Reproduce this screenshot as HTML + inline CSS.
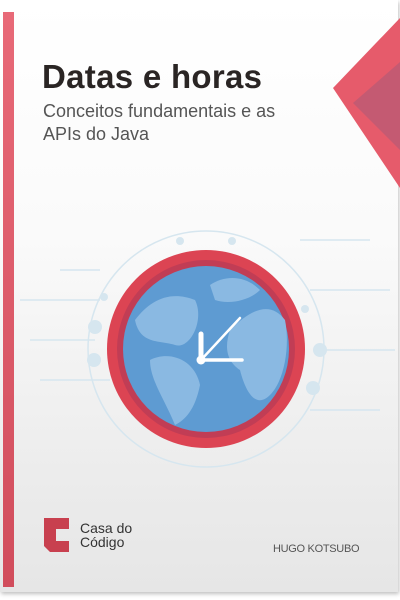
<!DOCTYPE html>
<html><head><style>
body{margin:0;width:400px;height:600px;overflow:hidden;background:#fff;font-family:"Liberation Sans",sans-serif}
.cover{position:absolute;left:0;top:0;width:398px;height:592px;background:linear-gradient(#fff 0%,#fafafa 40%,#ececec 80%,#e6e6e6 100%);box-shadow:1px 2px 4px rgba(0,0,0,.25)}
.spine{position:absolute;left:3px;top:12px;width:11px;height:575px;background:linear-gradient(#e86a78,#d14d5c)}
.t{position:absolute;left:42px;top:58px;font-size:33px;font-weight:bold;color:#2a2524;letter-spacing:0.3px}
.s{position:absolute;left:43px;top:100px;font-size:18px;color:#555;line-height:23px}
.c1{position:absolute;left:80px;top:521px;font-size:14px;color:#333;line-height:14px}
.a{position:absolute;left:273px;top:543px;font-size:11px;color:#555;letter-spacing:-0.3px}
</style></head><body>
<div class="cover">
<div class="spine"></div>
<svg width="400" height="600" style="position:absolute;left:0;top:0">
<polygon points="400,18 333,88 400,188" fill="#e65b6b"/>
<polygon points="400,62 353,103 400,150" fill="#c45a72"/>
<g stroke="#d6e6ef" stroke-width="1.5" fill="none">
<circle cx="206" cy="349" r="118"/>
<path d="M20 300 H100 M30 340 H95 M40 380 H110 M310 290 H390 M320 350 H395 M310 410 H380 M60 270 H100 M300 240 L370 240"/>
</g>
<g fill="#d6e6ef">
<circle cx="95" cy="327" r="7"/><circle cx="94" cy="360" r="7"/><circle cx="320" cy="350" r="7"/><circle cx="313" cy="388" r="7"/>
<circle cx="180" cy="241" r="4"/><circle cx="232" cy="241" r="4"/><circle cx="104" cy="297" r="4"/><circle cx="305" cy="309" r="4"/>
</g>
<circle cx="206" cy="349" r="99" fill="#dc4453"/>
<circle cx="206" cy="349" r="89" fill="#c13d55"/>
<circle cx="206" cy="349" r="83" fill="#5e9bd2"/>
<g fill="#8ab9e2">
<path d="M135 320 C150 300 170 290 195 300 C205 320 190 350 175 345 C160 340 140 345 135 320Z"/>
<path d="M150 360 C170 350 195 360 200 385 C195 410 185 420 175 425 C165 400 150 380 150 360Z"/>
<path d="M230 330 C250 310 270 300 285 320 C290 345 285 380 270 395 C255 410 245 390 240 370 C225 360 225 345 230 330Z"/>
<path d="M210 285 C225 275 245 275 260 290 C250 300 230 305 215 300Z"/>
</g>
<g stroke="#fff" stroke-linecap="round">
<line x1="201" y1="360" x2="201" y2="334" stroke-width="5"/>
<line x1="201" y1="360" x2="242" y2="360" stroke-width="3.5"/>
<line x1="201" y1="360" x2="240" y2="318" stroke-width="2.5"/>
</g>
<circle cx="201" cy="360" r="4.5" fill="#fff"/>
<path d="M44 518 H69 V529 H56 V541 H69 V552 H50 L44 546Z" fill="#c8404f"/>
</svg>
<div class="t">Datas e horas</div>
<div class="s">Conceitos fundamentais e as<br>APIs do Java</div>
<div class="c1">Casa do<br>Código</div>
<div class="a">HUGO KOTSUBO</div>
</div>
</body></html>
